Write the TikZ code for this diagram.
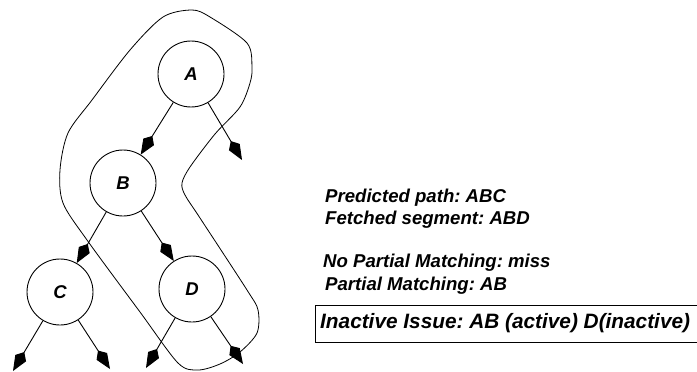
\documentclass[tikz,border=0pt]{standalone}
\usepackage{fontspec}
\setmainfont{Liberation Sans}
\usetikzlibrary{arrows.meta}
\frenchspacing
\begin{document}
\begin{tikzpicture}[x=1pt,y=-1pt,
  treenode/.style={circle, draw, line width=0.9pt, minimum size=66pt, inner sep=0pt,
    font=\fontsize{18.5}{18.5}\selectfont\bfseries\itshape},
  edge/.style={line width=0.9pt, -{Kite[length=22pt,width=12.5pt,inset=7pt]}},
  infotext/.style={anchor=base west, inner sep=0pt, font=\fontsize{18.6}{18.6}\selectfont\bfseries\itshape},
  issuetext/.style={anchor=base west, inner sep=0pt, font=\fontsize{20.8}{20.8}\selectfont\bfseries\itshape},
  outline/.style={line width=0.8pt}
]
\useasboundingbox (0,0) rectangle (697,372);

% tree nodes
\node[treenode] (A) at (191,74) {A};
\node[treenode] (B) at (123,183) {B};
\node[treenode] (C) at (60,292) {C};
\node[treenode] (D) at (192,289) {D};

% free ends of the dangling branches
\coordinate (aR) at (242,160);
\coordinate (c1) at (13,371);
\coordinate (c2) at (110,369);
\coordinate (d1) at (146,368);
\coordinate (d2) at (243,364);

\draw[edge] (A) -- (B);
\draw[edge] (A) -- (aR);
\draw[edge] (B) -- (C);
\draw[edge] (B) -- (D);
\draw[edge] (C) -- (c1);
\draw[edge] (C) -- (c2);
\draw[edge] (D) -- (d1);
\draw[edge] (D) -- (d2);

% fetched segment outline around A, B, D
\draw[outline] plot[smooth cycle, tension=0.5] coordinates {
  (192,10) (210,17) (247,43) (252,67) (250,83) (240,107) (215,134)
  (190,167) (182,183) (185,195) (200,218) (247,290) (258,310) (257,333)
  (240,352) (220,364) (198,370) (178,363) (140,312) (87,240) (63,203)
  (60,170) (68,133) (92,100) (130,50) (163,17)};

% description text
\node[infotext] (t1) at (325,202) {Predicted path: ABC};
\node[infotext] (t2) at (325,224) {Fetched segment: ABD};
\node[infotext] (t3) at (323,267) {No Partial Matching: miss};
\node[infotext] (t4) at (325,290) {Partial Matching: AB};
\node[issuetext] (t5) at (320,328) {Inactive Issue: AB (active) D(inactive)};

% open-ended frame around the last line
\coordinate (bx1) at (697,305.5);
\coordinate (bx2) at (315,342);
\coordinate (bx3) at (697,342);
\draw[line width=0.9pt] (bx1) -| (bx2) -- (bx3);
\end{tikzpicture}
\end{document}
